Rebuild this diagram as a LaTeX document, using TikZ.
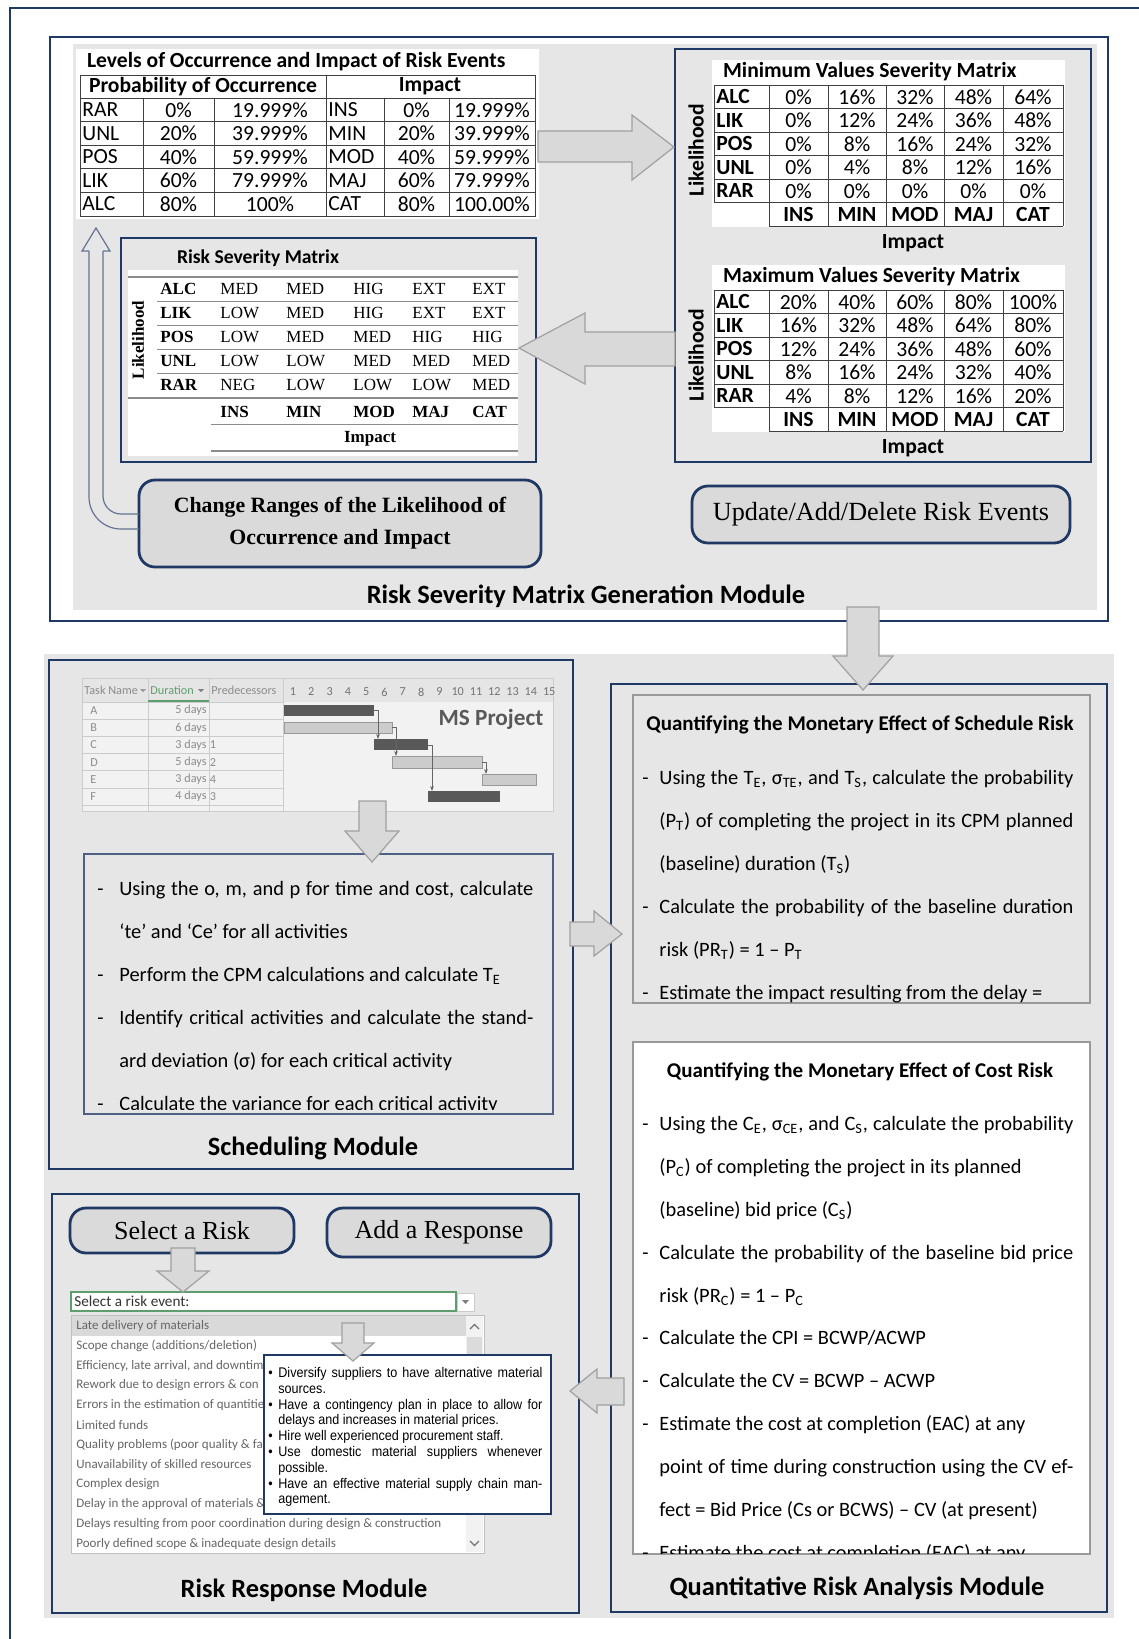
\documentclass[tikz,border=0pt]{standalone}
\usepackage{fontspec}
\setmainfont{Carlito}
\newfontfamily\timesf{Liberation Serif}
\newfontfamily\respf[FakeStretch=0.9]{Liberation Sans}
\usetikzlibrary{positioning,fit,arrows.meta}

\definecolor{navy}{HTML}{203864}
\definecolor{bggray}{HTML}{E7E6E6}
\definecolor{btngray}{HTML}{DADADA}
\definecolor{arrfill}{HTML}{D9D9D9}
\definecolor{arrline}{HTML}{A0A0A0}
\definecolor{gridline}{HTML}{404040}
\definecolor{rsmline}{HTML}{8C8C8C}
\definecolor{msgreen}{HTML}{5E9E6E}

\newcommand{\fsz}[1]{\fontsize{#1}{#1}\selectfont}
\newcommand{\jline}[1]{\makebox[207pt][s]{#1}}

\tikzset{
  modbox/.style={draw=navy, line width=0.7pt, fill=bggray, inner sep=0pt},
  btn/.style={draw=navy, line width=1.4pt, fill=btngray, rounded corners=8pt, inner sep=0pt},
  txtbox/.style={draw=black!40, line width=0.6pt, inner sep=0pt},
  blk/.style={fill=arrfill, draw=arrline, line width=0.6pt},
  modlabel/.style={font=\bfseries\fsz{13.2}},
  tcell/.style={font=\fsz{10.8}, inner sep=0pt},
  tbold/.style={font=\bfseries\fsz{10.8}, inner sep=0pt},
  rcell/.style={font=\timesf\fsz{8.5}, anchor=west, inner sep=0pt},
  rbold/.style={font=\timesf\bfseries\fsz{8.5}, anchor=west, inner sep=0pt},
  qline/.style={font=\fsz{10.2}, anchor=base west, inner sep=0pt},
  listitem/.style={font=\fsz{6.5}, text=black!60, anchor=west, inner sep=0pt},
  gantt/.style={font=\fsz{6.1}, text=black!45, inner sep=0pt},
}

% severity matrix: #1 top line, #2 title, #3 name, #4 rows
\newcommand{\sevmat}[4]{%
  \fill[white] (712,#1-25) rectangle (1065,#1+142);
  \node[anchor=west, font=\bfseries\fsz{10.8}] (#3-title) at (716,#1-13) {#2};
  \draw[gridline, line width=0.5pt] (714,#1) -- (1063,#1);
  \foreach \k in {1,...,5} \draw[gridline, line width=0.5pt] (714,#1+23.5*\k) -- (1063,#1+23.5*\k);
  \draw[gridline, line width=0.5pt] (769,#1+141) -- (1063,#1+141);
  \draw[gridline, line width=0.5pt] (714,#1) -- (714,#1+117.5);
  \foreach \xx in {769,828,886,944,1003,1063} \draw[gridline, line width=0.5pt] (\xx,#1) -- (\xx,#1+141);
  \foreach \lab/\va/\vb/\vc/\vd/\ve [count=\i] in {#4}{
    \pgfmathsetmacro{\yy}{#1+23.5*\i-11.75}
    \node[tbold, anchor=west] (#3-r\i) at (716,\yy) {\lab};
    \node[tcell] at (798.5,\yy) {\va\%};
    \node[tcell] at (857,\yy) {\vb\%};
    \node[tcell] at (915,\yy) {\vc\%};
    \node[tcell] at (973.5,\yy) {\vd\%};
    \node[tcell] at (1033,\yy) {\ve\%};
  }
  \foreach \h/\xx in {INS/798.5, MIN/857, MOD/915, MAJ/973.5, CAT/1033}
    \node[tbold] (#3-\h) at (\xx,#1+129.25) {\h};
  \node[font=\bfseries\fsz{10.8}] (#3-imp) at (913,#1+158) {Impact};
  \node[rotate=90, font=\bfseries\fsz{10.8}] (#3-lik) at (696,#1+65) {Likelihood};
}

\begin{document}
\begin{tikzpicture}[x=0.5pt, y=-0.5pt]
\useasboundingbox (0,0) rectangle (1139,1639);
\fill[white] (0,0) rectangle (1139,1639);
\draw[navy, line width=1.2pt] (10,1639) -- (10,8) -- (1139,8);

% Generation module
\node[fit={(50,37) (1108,621)}, draw=navy, line width=0.7pt, inner sep=0pt, fill=white] (genmod) {};
\fill[bggray] (73,44) rectangle (1097,610);
\node[modlabel] (genlabel) at (586,596) {Risk Severity Matrix Generation Module};

% Levels table
\fill[white] (76,49) rectangle (539,219);
\node[anchor=west, font=\bfseries\fsz{10.8}] (lvtitle) at (80,62) {Levels of Occurrence and Impact of Risk Events};
\draw[gridline, line width=0.5pt] (80,75) rectangle (535,216);
\foreach \yy in {98,121.5,145,168.5,192} \draw[gridline, line width=0.5pt] (80,\yy) -- (535,\yy);
\foreach \xx in {143,214,384,449} \draw[gridline, line width=0.5pt] (\xx,98) -- (\xx,216);
\draw[gridline, line width=0.5pt] (326,75) -- (326,216);
\node[tbold] (lvprob) at (203,86.5) {Probability of Occurrence};
\node[tbold] (lvimp) at (430,86.5) {Impact};
\foreach \a/\b/\c/\d/\e/\f [count=\i] in {RAR/0/19.999/INS/0/19.999, UNL/20/39.999/MIN/20/39.999, POS/40/59.999/MOD/40/59.999, LIK/60/79.999/MAJ/60/79.999, ALC/80/100/CAT/80/100.00}{
  \pgfmathsetmacro{\yy}{86.5+23.5*\i}
  \node[tcell, anchor=west] (lv\i-a) at (82,\yy) {\a};
  \node[tcell] (lv\i-b) at (178.5,\yy) {\b\%};
  \node[tcell] (lv\i-c) at (270,\yy) {\c\%};
  \node[tcell, anchor=west] (lv\i-d) at (328,\yy) {\d};
  \node[tcell] (lv\i-e) at (416.5,\yy) {\e\%};
  \node[tcell] (lv\i-f) at (492,\yy) {\f\%};
}

% Min / max matrices
\node[modbox, fit={(675,49) (1091,462)}] (panel) {};
\sevmat{85}{Minimum Values Severity Matrix}{minm}{ALC/0/16/32/48/64, LIK/0/12/24/36/48, POS/0/8/16/24/32, UNL/0/4/8/12/16, RAR/0/0/0/0/0}
\sevmat{290}{Maximum Values Severity Matrix}{maxm}{ALC/20/40/60/80/100, LIK/16/32/48/64/80, POS/12/24/36/48/60, UNL/8/16/24/32/40, RAR/4/8/12/16/20}

% Risk severity matrix
\node[modbox, fit={(121,238) (536,462)}] (rsm) {};
\node[font=\bfseries\fsz{9.8}] (rsmtitle) at (258,258) {Risk Severity Matrix};
\fill[white] (128,270) rectangle (518,456);
\draw[rsmline, line width=0.9pt] (128,277) -- (518,277);
\foreach \yy in {301,325,349,373} \draw[rsmline, line width=0.5pt] (157,\yy) -- (518,\yy);
\draw[rsmline, line width=0.7pt] (128,398) -- (518,398);
\draw[rsmline, line width=0.5pt] (211,424) -- (518,424);
\draw[rsmline, line width=0.9pt] (211,451) -- (518,451);
\foreach \lab/\va/\vb/\vc/\vd/\ve [count=\i] in {ALC/MED/MED/HIG/EXT/EXT, LIK/LOW/MED/HIG/EXT/EXT, POS/LOW/MED/MED/HIG/HIG, UNL/LOW/LOW/MED/MED/MED, RAR/NEG/LOW/LOW/LOW/MED}{
  \pgfmathsetmacro{\yy}{265+24*\i}
  \node[rbold] (rsm\i) at (160,\yy) {\lab};
  \node[rcell] at (220,\yy) {\va};
  \node[rcell] at (286,\yy) {\vb};
  \node[rcell] at (353,\yy) {\vc};
  \node[rcell] at (412,\yy) {\vd};
  \node[rcell] at (472,\yy) {\ve};
}
\foreach \h/\xx in {INS/220, MIN/286, MOD/353, MAJ/412, CAT/472}
  \node[rbold] (rsm-\h) at (\xx,412) {\h};
\node[font=\timesf\bfseries\fsz{8.5}] (rsmimp) at (370,439) {Impact};
\node[rotate=90, font=\timesf\bfseries\fsz{8.5}] (rsmlik) at (138,340) {Likelihood};

% Buttons
\node[btn, fit={(139,480) (541,567)}] (chg) {};
\node[font=\timesf\bfseries\fontsize{10.9}{16}\selectfont, align=center] (chgtxt) at (chg.center) {Change Ranges of the Likelihood of\\Occurrence and Impact};
\node[btn, fit={(692,486) (1070,543)}] (upd) {};
\node[font=\timesf\fsz{13.1}] (updtxt) at (upd.center) {Update/Add/Delete Risk Events};

% Outline arrow back to the levels table
\draw[navy!70, line width=0.6pt] (139,514) [rounded corners=9pt] -- (103,514) -- (103,251);
\draw[navy!70, line width=0.6pt] (103,251) -- (110,251) -- (96,228) -- (82,251) -- (89,251);
\draw[navy!70, line width=0.6pt] (89,251) [rounded corners=16pt] -- (89,529) -- (139,529);

% Block arrows (top)
\filldraw[blk] (538,131) -- (632,131) -- (632,115) -- (674,147) -- (632,180) -- (632,162) -- (538,162) -- cycle;
\filldraw[blk] (675,332) -- (585,332) -- (585,313) -- (519,348) -- (585,384) -- (585,366) -- (675,366) -- cycle;

% Lower area
\fill[bggray] (44,654) rectangle (1114,1618);

% Scheduling module
\node[modbox, fit={(49,660) (573,1169)}] (schedmod) {};
\fill[black!5] (82,678) rectangle (553,811);
\fill[black!10] (82,678) rectangle (553,702);
\draw[black!20, line width=0.4pt] (82,678) rectangle (553,811);
\foreach \xx in {148,209,283} \draw[black!20, line width=0.4pt] (\xx,678) -- (\xx,811);
\foreach \k in {1,...,7} \draw[black!20, line width=0.4pt] (82,{702+17.2*(\k-1)}) -- (283,{702+17.2*(\k-1)});
\node[gantt, anchor=west] (gtask) at (84,690) {Task Name};
\fill[black!40] (140,689) -- (146,689) -- (143,692) -- cycle;
\node[gantt, anchor=west, text=msgreen] (gdur) at (150,690) {Duration};
\fill[black!50] (198,689) -- (204,689) -- (201,692) -- cycle;
\draw[msgreen, line width=0.8pt] (148,701) -- (209,701);
\node[gantt, anchor=west] (gpred) at (211,690) {Predecessors};
\foreach \d in {1,...,15} \node[gantt, text=black!55] (gday\d) at ({293+18.3*(\d-1)},692) {\d};
\foreach \t/\n/\p [count=\i] in {A/5/, B/6/, C/3/1, D/5/2, E/3/4, F/4/3}{
  \pgfmathsetmacro{\yy}{702+17.2*(\i-0.5)}
  \node[gantt, anchor=west] (gt\i) at (90,\yy) {\t};
  \node[gantt, anchor=east] (gn\i) at (207,\yy) {\n\ days};
  \node[gantt, anchor=west] (gp\i) at (209.5,\yy) {\p};
}
\fill[black!65] (284,705) rectangle (374,716);
\filldraw[fill=black!20, draw=black!40, line width=0.4pt] (284,722) rectangle (392,733);
\fill[black!65] (374,739) rectangle (428,750);
\filldraw[fill=black!20, draw=black!40, line width=0.4pt] (392,756) rectangle (482,768);
\filldraw[fill=black!20, draw=black!40, line width=0.4pt] (482,774) rectangle (536,785);
\fill[black!65] (428,791) rectangle (500,802);
\draw[black!60, line width=0.4pt, -{Stealth[length=2.5pt]}] (374,710) -- (378,710) -- (378,739);
\draw[black!60, line width=0.4pt, -{Stealth[length=2.5pt]}] (392,727) -- (396,727) -- (396,756);
\draw[black!60, line width=0.4pt, -{Stealth[length=2.5pt]}] (428,745) -- (432,745) -- (432,791);
\draw[black!60, line width=0.4pt, -{Stealth[length=2.5pt]}] (482,762) -- (486,762) -- (486,774);
\node[font=\bfseries\fsz{11.6}, text=black!65] (msproj) at (491,719) {MS Project};

\node[txtbox, draw=navy!80, fit={(84,854) (553,1114)}] (schedtxt) {};
\begin{scope}
\clip (84,854) rectangle (553,1109);
\node[qline] (sc1d) at (97,895) {-};
\node[qline] (sc1) at (119,895) {\jline{Using the o, m, and p for time and cost, calculate}};
\node[qline] (sc2) at (119,938) {‘te’ and ‘Ce’ for all activities};
\node[qline] (sc3d) at (97,981) {-};
\node[qline] (sc3) at (119,981) {Perform the CPM calculations and calculate T\textsubscript{E}};
\node[qline] (sc4d) at (97,1024) {-};
\node[qline] (sc4) at (119,1024) {\jline{Identify critical activities and calculate the stand-}};
\node[qline] (sc5) at (119,1067) {ard deviation (σ) for each critical activity};
\node[qline] (sc6d) at (97,1110) {-};
\node[qline] (sc6) at (119,1110) {Calculate the variance for each critical activity};
\end{scope}
\node[modlabel] (schedlabel) at (313,1148) {Scheduling Module};

% Quantitative module
\node[modbox, fit={(611,684) (1107,1612)}] (quantmod) {};
\node[txtbox, fit={(633,695) (1090,1003)}] (schedrisk) {};
\node[font=\bfseries\fsz{10.5}] (srtitle) at (860,725) {Quantifying the Monetary Effect of Schedule Risk};
\begin{scope}
\clip (633,695) rectangle (1090,1002);
\node[qline] (sr1d) at (642,784) {-};
\node[qline] (sr1) at (659,784) {\jline{Using the T\textsubscript{E}, σ\textsubscript{TE}, and T\textsubscript{S}, calculate the probability}};
\node[qline] (sr2) at (659,827) {\jline{(P\textsubscript{T}) of completing the project in its CPM planned}};
\node[qline] (sr3) at (659,870) {(baseline) duration (T\textsubscript{S})};
\node[qline] (sr4d) at (642,913) {-};
\node[qline] (sr4) at (659,913) {\jline{Calculate the probability of the baseline duration}};
\node[qline] (sr5) at (659,956) {risk (PR\textsubscript{T}) = 1 -- P\textsubscript{T}};
\node[qline] (sr6d) at (642,999) {-};
\node[qline] (sr6) at (659,999) {Estimate the impact resulting from the delay =};
\end{scope}

\node[txtbox, fill=white, fit={(633,1042) (1090,1554)}] (costrisk) {};
\node[font=\bfseries\fsz{10.5}] (crtitle) at (860,1072) {Quantifying the Monetary Effect of Cost Risk};
\begin{scope}
\clip (633,1042) rectangle (1090,1553);
\node[qline] (cr1d) at (642,1130) {-};
\node[qline] (cr1) at (659,1130) {\jline{Using the C\textsubscript{E}, σ\textsubscript{CE}, and C\textsubscript{S}, calculate the probability}};
\node[qline] (cr2) at (659,1173) {(P\textsubscript{C}) of completing the project in its planned};
\node[qline] (cr3) at (659,1216) {(baseline) bid price (C\textsubscript{S})};
\node[qline] (cr4d) at (642,1259) {-};
\node[qline] (cr4) at (659,1259) {\jline{Calculate the probability of the baseline bid price}};
\node[qline] (cr5) at (659,1302) {risk (PR\textsubscript{C}) = 1 -- P\textsubscript{C}};
\node[qline] (cr6d) at (642,1344) {-};
\node[qline] (cr6) at (659,1344) {Calculate the CPI = BCWP/ACWP};
\node[qline] (cr7d) at (642,1387) {-};
\node[qline] (cr7) at (659,1387) {Calculate the CV = BCWP -- ACWP};
\node[qline] (cr8d) at (642,1430) {-};
\node[qline] (cr8) at (659,1430) {Estimate the cost at completion (EAC) at any};
\node[qline] (cr9) at (659,1473) {\jline{point of time during construction using the CV ef-}};
\node[qline] (cr10) at (659,1516) {fect = Bid Price (Cs or BCWS) -- CV (at present)};
\node[qline] (cr11d) at (642,1559) {-};
\node[qline] (cr11) at (659,1559) {Estimate the cost at completion (EAC) at any};
\end{scope}
\node[modlabel] (quantlabel) at (857,1588) {Quantitative Risk Analysis Module};

% Risk response module
\node[modbox, fit={(52,1194) (579,1613)}] (respmod) {};
\node[btn, fit={(70,1208) (294,1253)}] (selbtn) {};
\node[font=\timesf\fsz{13}] (seltxt) at (selbtn.center) {Select a Risk};
\node[btn, fit={(327,1208) (551,1257)}] (addbtn) {};
\node[font=\timesf\fsz{13}] (addtxt) at (addbtn.center) {Add a Response};

\node[draw=msgreen, line width=0.6pt, fill=white, fit={(71,1292) (456,1311)}, inner sep=0pt] (selbox) {};
\node[font=\fsz{7.6}, text=black!80, anchor=west, inner sep=0pt] (selboxtxt) at (74,1301.5) {Select a risk event:};
\node[draw=black!20, fill=white, fit={(457,1293) (474,1311)}, inner sep=0pt] (seldrop) {};
\fill[black!50] (462,1300) -- (469,1300) -- (465.5,1304) -- cycle;

\node[draw=black!25, fill=white, fit={(71,1315) (484,1553)}, inner sep=0pt] (risklist) {};
\fill[black!15] (72,1316) rectangle (466,1336);
\fill[black!5] (466,1316) rectangle (483,1552);
\fill[black!14] (467,1337) rectangle (482,1362);
\draw[black!55, line width=0.6pt] (470,1329) -- (474.5,1324.5) -- (479,1329);
\draw[black!55, line width=0.6pt] (470,1541) -- (474.5,1545.5) -- (479,1541);
\foreach \it [count=\i] in {Late delivery of materials, Scope change (additions/deletion), {Efficiency, late arrival, and downtim}, Rework due to design errors \& con, Errors in the estimation of quantitie, Limited funds, Quality problems (poor quality \& fa, Unavailability of skilled resources, Complex design, Delay in the approval of materials \&, Delays resulting from poor coordination during design \& construction, Poorly defined scope \& inadequate design details}
  \node[listitem] (ri\i) at (76,{1326+19.8*(\i-1)}) {\it};

\node[draw=navy, line width=0.6pt, fill=white, fit={(264,1355) (551,1514)}, inner sep=0pt] (respbox) {};
\node[anchor=north west, inner sep=0pt, font=\respf\fontsize{7}{7.9}\selectfont] (resptxt) at (268,1366) {%
\begin{tabular}{@{}p{5pt}@{}p{132pt}@{}}
\textbullet & Diversify suppliers to have alternative material\linebreak sources.\\
\textbullet & Have a contingency plan in place to allow for\linebreak delays and increases in material prices.\\
\textbullet & Hire well experienced procurement staff.\\
\textbullet & Use domestic material suppliers whenever\linebreak possible.\\
\textbullet & Have an effective material supply chain man-\linebreak agement.
\end{tabular}};
\node[modlabel] (resplabel) at (304,1590) {Risk Response Module};

% Block arrows (bottom)
\filldraw[blk] (847,607) -- (879,607) -- (879,656) -- (893,656) -- (863,690) -- (833,656) -- (847,656) -- cycle;
\filldraw[blk] (359,801) -- (386,801) -- (386,831) -- (399,831) -- (372,862) -- (345,831) -- (359,831) -- cycle;
\filldraw[blk] (570,922) -- (594,922) -- (594,911) -- (622,934) -- (594,956) -- (594,946) -- (570,946) -- cycle;
\filldraw[blk] (624,1378) -- (597,1378) -- (597,1369) -- (570,1391) -- (597,1413) -- (597,1405) -- (624,1405) -- cycle;
\filldraw[blk] (171,1248) -- (195,1248) -- (195,1271) -- (209,1271) -- (183,1292) -- (157,1271) -- (171,1271) -- cycle;
\filldraw[blk] (342,1323) -- (364,1323) -- (364,1343) -- (374,1343) -- (353,1361) -- (332,1343) -- (342,1343) -- cycle;
\end{tikzpicture}
\end{document}
